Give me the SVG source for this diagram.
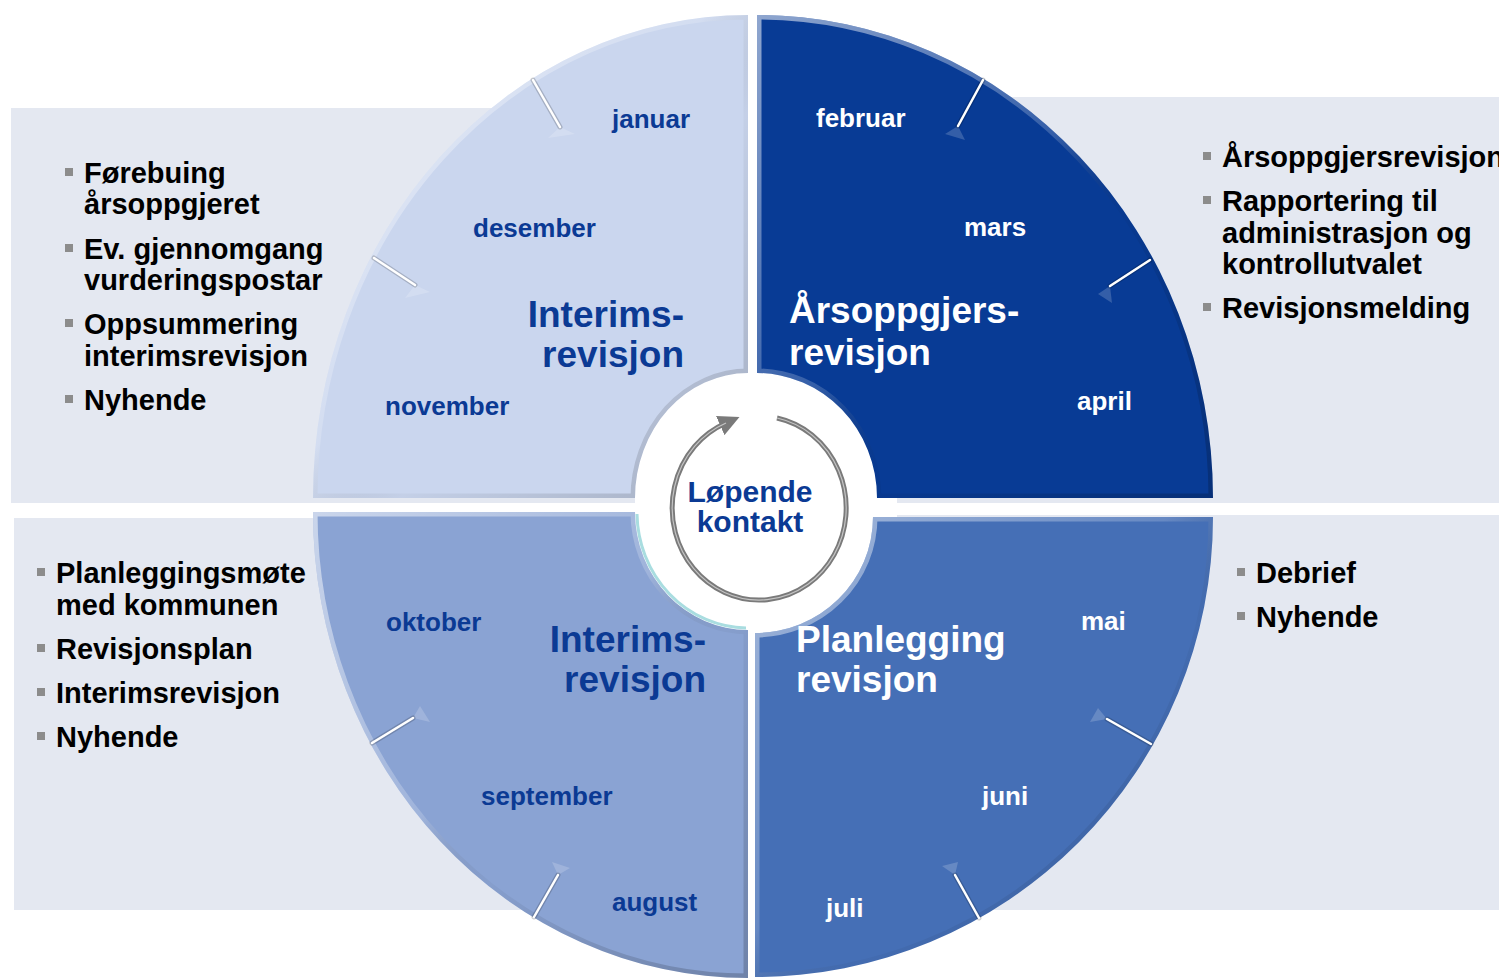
<svg xmlns="http://www.w3.org/2000/svg" width="1499" height="978" viewBox="0 0 1499 978">
<defs>
<style>
.bul{font-family:"Liberation Sans",Arial,Helvetica,sans-serif;font-weight:bold;font-size:29px;fill:#000}
.mon{font-family:"Liberation Sans",Arial,Helvetica,sans-serif;font-weight:bold;font-size:26px}
.big{font-family:"Liberation Sans",Arial,Helvetica,sans-serif;font-weight:bold;font-size:37px}
.ctr{font-family:"Liberation Sans",Arial,Helvetica,sans-serif;font-weight:bold;font-size:30px;fill:#0b3a94}
.dk{fill:#0b3a94}
.wh{fill:#ffffff}
.panel{fill:#e4e8f1}
.sq{fill:#8c8c8c}
.bevel{fill:none;stroke:url(#bev);stroke-width:9}
.tk1{stroke:#000;stroke-opacity:0.18;stroke-width:5;stroke-linecap:round}
.tk2{stroke:#ffffff;stroke-width:2.5;stroke-linecap:round}
.tsh{fill:#ffffff;fill-opacity:0.18}
</style>
<linearGradient id="bev" x1="0" y1="0" x2="1" y2="1">
<stop offset="0" stop-color="#ffffff" stop-opacity="0.55"/>
<stop offset="0.45" stop-color="#ffffff" stop-opacity="0.18"/>
<stop offset="0.6" stop-color="#000000" stop-opacity="0.03"/>
<stop offset="1" stop-color="#000000" stop-opacity="0.2"/>
</linearGradient>
<path id="pTL" d="M748 15 L748 373 A113 125 0 0 0 635 498 L313 498 A435 483 0 0 1 748 15 Z"/>
<path id="pTR" d="M757 15 A456 483 0 0 1 1213 498 L877 498 A120 125 0 0 0 757 373 Z"/>
<path id="pBL" d="M748 630 L748 978 A435 466 0 0 1 313 512 L635 512 A113 118 0 0 0 748 630 Z"/>
<path id="pBR" d="M755 633 A118 116 0 0 0 873 517 L1213 517 A458 460 0 0 1 755 977 Z"/>
<clipPath id="cTL"><use href="#pTL"/></clipPath>
<clipPath id="cTR"><use href="#pTR"/></clipPath>
<clipPath id="cBL"><use href="#pBL"/></clipPath>
<clipPath id="cBR"><use href="#pBR"/></clipPath>
<marker id="ah" viewBox="0 0 10 10" refX="3" refY="5" markerWidth="4.2" markerHeight="4.2" orient="auto" markerUnits="strokeWidth">
<path d="M0 0 L10 5 L0 10 Z" fill="#7a7a7a"/>
</marker>
</defs>
<rect width="1499" height="978" fill="#ffffff"/>

<g id="panels">
<rect class="panel" x="11" y="108" width="624" height="395"/>
<rect class="panel" x="897" y="97" width="602" height="406"/>
<rect class="panel" x="14" y="518" width="620" height="392"/>
<rect class="panel" x="897" y="515" width="602" height="395"/>
</g>

<g id="node-interims-top">
<use href="#pTL" fill="#cad6ee"/>
<use href="#pTL" class="bevel" clip-path="url(#cTL)"/>
<g>
<polygon class="tsh" points="560,127 548,138 575,134"/>
<line class="tk1" x1="533" y1="80" x2="560" y2="127"/>
<line class="tk2" x1="533" y1="80" x2="560" y2="127"/>
<polygon class="tsh" points="415,285 405,298 430,292"/>
<line class="tk1" x1="374" y1="258" x2="415" y2="285"/>
<line class="tk2" x1="374" y1="258" x2="415" y2="285"/>
</g>
<text class="mon dk" x="612" y="128">januar</text>
<text class="mon dk" x="473" y="237">desember</text>
<text class="mon dk" x="385" y="415">november</text>
<text class="big dk" text-anchor="end"><tspan x="684" y="327">Interims-</tspan><tspan x="684" y="367">revisjon</tspan></text>
</g>

<g id="node-arsoppgjer">
<use href="#pTR" fill="#083b95"/>
<use href="#pTR" class="bevel" clip-path="url(#cTR)"/>
<g>
<polygon class="tsh" points="958,126 945,134 965,140"/>
<line class="tk1" x1="983" y1="80" x2="958" y2="126"/>
<line class="tk2" x1="983" y1="80" x2="958" y2="126"/>
<polygon class="tsh" points="1110,286 1098,294 1112,303"/>
<line class="tk1" x1="1150" y1="260" x2="1110" y2="286"/>
<line class="tk2" x1="1150" y1="260" x2="1110" y2="286"/>
</g>
<text class="mon wh" x="816" y="127">februar</text>
<text class="mon wh" x="964" y="236">mars</text>
<text class="mon wh" x="1077" y="410">april</text>
<text class="big wh"><tspan x="789" y="323">Årsoppgjers-</tspan><tspan x="789" y="365">revisjon</tspan></text>
</g>

<g id="node-interims-bottom">
<use href="#pBL" fill="#8aa3d3"/>
<use href="#pBL" class="bevel" clip-path="url(#cBL)"/>
<path d="M637 514 A111 116 0 0 0 746 628" fill="none" stroke="#a9dde0" stroke-width="3"/>
<g>
<polygon class="tsh" points="413,718 420,706 430,722"/>
<line class="tk1" x1="372" y1="743" x2="413" y2="718"/>
<line class="tk2" x1="372" y1="743" x2="413" y2="718"/>
<polygon class="tsh" points="558,875 552,862 570,868"/>
<line class="tk1" x1="534" y1="917" x2="558" y2="875"/>
<line class="tk2" x1="534" y1="917" x2="558" y2="875"/>
</g>
<text class="mon dk" x="386" y="631">oktober</text>
<text class="mon dk" x="481" y="805">september</text>
<text class="mon dk" x="612" y="911">august</text>
<text class="big dk" text-anchor="end"><tspan x="706" y="652">Interims-</tspan><tspan x="706" y="692">revisjon</tspan></text>
</g>

<g id="node-planlegging">
<use href="#pBR" fill="#456fb6"/>
<use href="#pBR" class="bevel" clip-path="url(#cBR)"/>
<g>
<polygon class="tsh" points="1107,719 1098,708 1090,722"/>
<line class="tk1" x1="1151" y1="744" x2="1107" y2="719"/>
<line class="tk2" x1="1151" y1="744" x2="1107" y2="719"/>
<polygon class="tsh" points="955,875 958,862 942,866"/>
<line class="tk1" x1="979" y1="918" x2="955" y2="875"/>
<line class="tk2" x1="979" y1="918" x2="955" y2="875"/>
</g>
<text class="mon wh" x="1081" y="630">mai</text>
<text class="mon wh" x="982" y="805">juni</text>
<text class="mon wh" x="826" y="917">juli</text>
<text class="big wh"><tspan x="796" y="652">Planlegging</tspan><tspan x="796" y="692">revisjon</tspan></text>
</g>

<g id="connectors">
<path d="M777 418 A87 92 0 1 1 726 423" fill="none" stroke="#7a7a7a" stroke-width="5" marker-end="url(#ah)"/>
<path d="M777 418 A87 92 0 1 1 726 423" fill="none" stroke="#c4c4c4" stroke-width="1.2"/>
</g>

<g id="node-lopende-kontakt">
<text class="ctr" text-anchor="middle"><tspan x="750" y="502">Løpende</tspan><tspan x="750" y="532">kontakt</tspan></text>
</g>

<g id="list-top-left">
<rect class="sq" x="65" y="168" width="8" height="8"/>
<text class="bul"><tspan x="84" y="183">Førebuing</tspan><tspan x="84" y="214">årsoppgjeret</tspan></text>
<rect class="sq" x="65" y="244" width="8" height="8"/>
<text class="bul"><tspan x="84" y="259">Ev. gjennomgang</tspan><tspan x="84" y="290">vurderingspostar</tspan></text>
<rect class="sq" x="65" y="319" width="8" height="8"/>
<text class="bul"><tspan x="84" y="334">Oppsummering</tspan><tspan x="84" y="366">interimsrevisjon</tspan></text>
<rect class="sq" x="65" y="395" width="8" height="8"/>
<text class="bul" x="84" y="410">Nyhende</text>
</g>

<g id="list-top-right">
<rect class="sq" x="1203" y="152" width="8" height="8"/>
<text class="bul" x="1222" y="167">Årsoppgjersrevisjon</text>
<rect class="sq" x="1203" y="196" width="8" height="8"/>
<text class="bul"><tspan x="1222" y="211">Rapportering til</tspan><tspan x="1222" y="243">administrasjon og</tspan><tspan x="1222" y="274">kontrollutvalet</tspan></text>
<rect class="sq" x="1203" y="303" width="8" height="8"/>
<text class="bul" x="1222" y="318">Revisjonsmelding</text>
</g>

<g id="list-bottom-left">
<rect class="sq" x="37" y="568" width="8" height="8"/>
<text class="bul"><tspan x="56" y="583">Planleggingsmøte</tspan><tspan x="56" y="615">med kommunen</tspan></text>
<rect class="sq" x="37" y="644" width="8" height="8"/>
<text class="bul" x="56" y="659">Revisjonsplan</text>
<rect class="sq" x="37" y="688" width="8" height="8"/>
<text class="bul" x="56" y="703">Interimsrevisjon</text>
<rect class="sq" x="37" y="732" width="8" height="8"/>
<text class="bul" x="56" y="747">Nyhende</text>
</g>

<g id="list-bottom-right">
<rect class="sq" x="1237" y="568" width="8" height="8"/>
<text class="bul" x="1256" y="583">Debrief</text>
<rect class="sq" x="1237" y="612" width="8" height="8"/>
<text class="bul" x="1256" y="627">Nyhende</text>
</g>
</svg>
